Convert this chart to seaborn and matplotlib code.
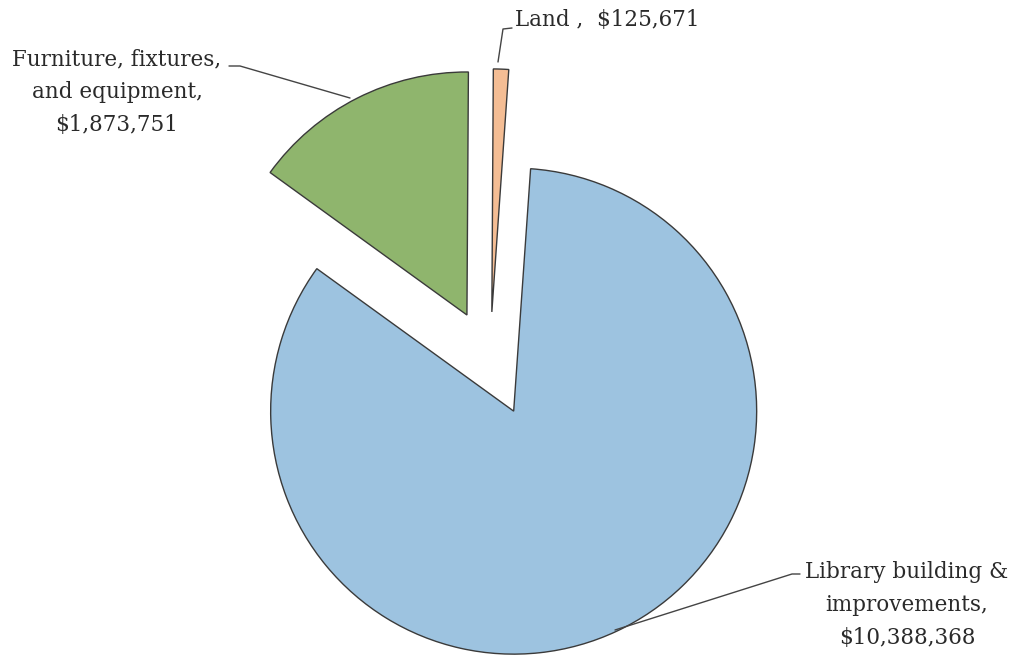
import matplotlib
matplotlib.use("Agg")
import matplotlib.pyplot as plt
import seaborn as sns

# Values
categories = ["Library building & improvements", "Furniture, fixtures, and equipment", "Land"]
values = [10388368, 1873751, 125671]
label_texts = ["Library building &\nimprovements,\n$10,388,368",
               "Furniture, fixtures,\nand equipment,\n$1,873,751",
               "Land ,  $125,671"]
colors = ["#9dc3e0", "#8fb56d", "#f4bd94"]
explode_frac = [0.23, 0.21, 0.2]

sns.set_theme(style="white")
plt.rcParams["font.family"] = ["DejaVu Serif"]

fig = plt.figure(figsize=(10.24, 6.58), dpi=100)
ax = fig.add_axes([0, 0, 1, 1])

# pie center/radius in pixel units (y up); explode is absolute, so scale by radius
R = 243
ax.pie(values, colors=colors, explode=[e * R for e in explode_frac],
       startangle=86, counterclock=False, center=(490, 297.5), radius=R,
       wedgeprops=dict(edgecolor="#3a3a3a", linewidth=1.0))

# pie() resets the limits, so set them afterwards
ax.set_xlim(0, 1024)
ax.set_ylim(0, 658)
ax.set_aspect("equal")
ax.axis("off")

fs = 15.5
tc = "#2a2a2a"
lc = "#444444"

# Library label
ax.text(907, 658 - 605, label_texts[0], ha="center", va="center", fontsize=fs,
        color=tc, linespacing=1.65)
ax.plot([615, 792, 800], [658 - 630, 658 - 574, 658 - 574], color=lc, lw=1)

# Furniture label
ax.text(117, 658 - 92, label_texts[1], ha="center", va="center", fontsize=fs,
        color=tc, linespacing=1.65)
ax.plot([229, 240, 350], [658 - 66, 658 - 66, 658 - 98], color=lc, lw=1)

# Land label
ax.text(515, 658 - 20, label_texts[2], ha="left", va="center", fontsize=fs,
        color=tc)
ax.plot([498, 503, 512], [658 - 62, 658 - 29, 658 - 28], color=lc, lw=1)

fig.savefig("out.png", dpi=100)
